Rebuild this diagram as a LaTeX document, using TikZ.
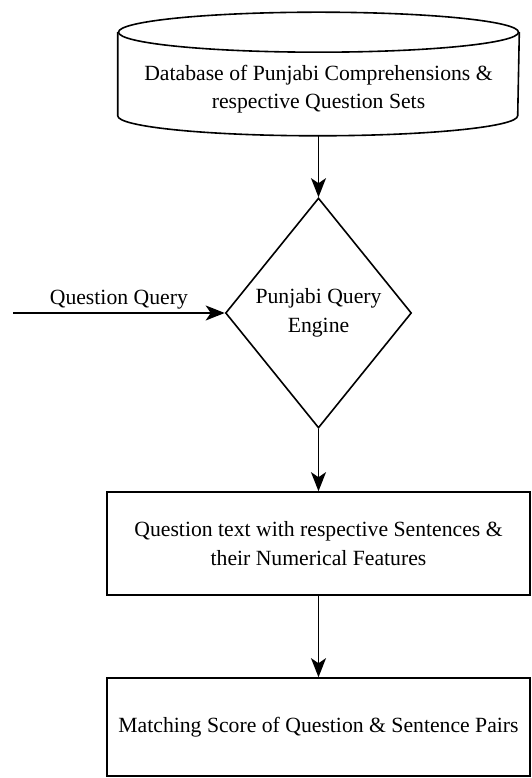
\documentclass[tikz,border=0pt]{standalone}
\usepackage{fontspec}
\setmainfont{Liberation Serif}[Ligatures=TeX]
\usetikzlibrary{arrows.meta,shapes.geometric,calc}

\begin{document}
\begin{tikzpicture}[x=1pt,y=1pt,line width=1.6pt,
    every node/.style={font=\rmfamily\fontsize{21.7}{29}\selectfont,align=center},
    flowbox/.style={draw,rectangle,minimum width=423pt,minimum height=103pt,inner sep=0pt},
    decision/.style={draw,diamond,aspect=0.8,minimum width=186pt,minimum height=230pt,inner sep=0pt},
    flowarrow/.style={-{Stealth[length=19pt,width=15pt,inset=5pt]}}]
    % Frame
    \useasboundingbox (0,0) rectangle (531,778);
    % Database
    \node[minimum width=400pt,minimum height=122pt,inner sep=0pt] (db) at (318.5,704) {};
    \draw ($(db.north)+(0,-20)$) ellipse [x radius=200pt,y radius=20pt];
    \draw ($(db.north west)+(0,-20)$) -- ($(db.south west)+(0,20)$)
        arc [start angle=180,end angle=360,x radius=200pt,y radius=20pt]
        -- ($(db.north east)+(0,-20)$);
    \node[font=\rmfamily\fontsize{21.7}{28}\selectfont] (dbtext) at (318.5,689) {Database of Punjabi Comprehensions \&\\respective Question Sets};
    % Query engine
    \node[decision] (engine) at (318.5,465) {Punjabi Query\\Engine};
    \coordinate (qin) at (13,465);
    % Results
    \node[flowbox] (features) at (318.5,234.5) {Question text with respective Sentences \&\\their Numerical Features};
    \node[flowbox,minimum height=98pt] (score) at (318.5,51) {Matching Score of Question \& Sentence Pairs};
    % Connectors
    \draw[flowarrow] (db.south) -- (engine.north);
    \draw[flowarrow] (qin) -- node[above] {Question Query} (engine.west);
    \draw[flowarrow] (engine.south) -- (features.north);
    \draw[flowarrow] (features.south) -- (score.north);
\end{tikzpicture}
\end{document}
